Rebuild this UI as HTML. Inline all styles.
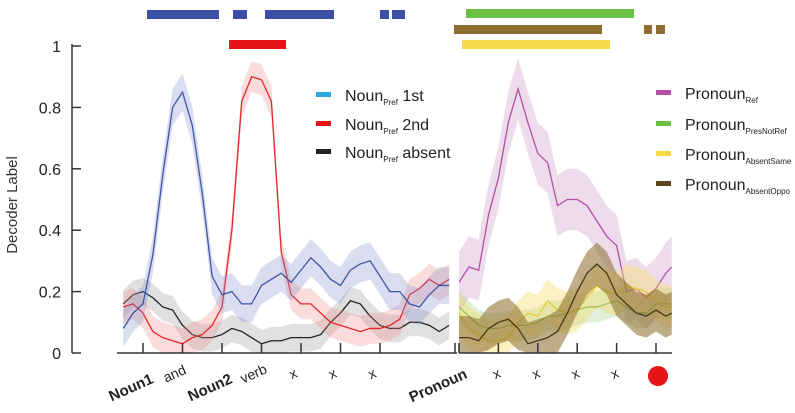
<!DOCTYPE html>
<html><head><meta charset="utf-8"><style>
body{margin:0;background:#fff;}
svg{display:block;font-family:"Liberation Sans",sans-serif;}
</style></head><body>
<svg id="chart" width="795" height="413" viewBox="0 0 795 413">
</svg>
<script>
// Left panel: word positions (units) and series
const uLeft = [-0.5,-0.25,0,0.25,0.5,0.75,1,1.25,1.5,1.75,2,2.25,2.5,2.75,3,3.25,3.5,3.75,4,4.25,4.5,4.75,5,5.25,5.5,5.75,6,6.25,6.5,6.75,7,7.25,7.5,7.75];
const nounFirst = [0.08,0.13,0.16,0.32,0.58,0.8,0.85,0.74,0.52,0.25,0.19,0.2,0.16,0.16,0.22,0.24,0.26,0.23,0.27,0.31,0.28,0.24,0.22,0.27,0.29,0.3,0.25,0.2,0.2,0.16,0.15,0.19,0.22,0.22];
const nounSecond = [0.15,0.16,0.13,0.07,0.05,0.04,0.03,0.05,0.06,0.09,0.15,0.4,0.82,0.9,0.89,0.82,0.33,0.19,0.16,0.16,0.13,0.1,0.09,0.08,0.07,0.08,0.08,0.09,0.11,0.19,0.21,0.24,0.22,0.24];
const nounAbsent = [0.16,0.19,0.2,0.18,0.15,0.14,0.09,0.06,0.05,0.05,0.06,0.08,0.07,0.05,0.03,0.04,0.04,0.05,0.05,0.05,0.06,0.1,0.13,0.17,0.16,0.12,0.09,0.08,0.08,0.1,0.1,0.09,0.07,0.09];
// Right panel
const uRight = [0,0.25,0.5,0.75,1,1.25,1.5,1.75,2,2.25,2.5,2.75,3,3.25,3.5,3.75,4,4.25,4.5,4.75,5,5.25,5.4];
const pronRef = [0.23,0.28,0.27,0.45,0.57,0.75,0.86,0.75,0.65,0.62,0.48,0.5,0.5,0.48,0.43,0.38,0.35,0.2,0.21,0.18,0.21,0.26,0.28];
const pronPresNotRef = [0.15,0.12,0.09,0.08,0.08,0.09,0.09,0.09,0.1,0.12,0.12,0.13,0.14,0.15,0.15,0.16,0.17,0.15,0.13,0.13,0.16,0.16,0.16];
const pronAbsentSame = [0.13,0.08,0.06,0.04,0.04,0.05,0.1,0.13,0.12,0.17,0.14,0.13,0.14,0.18,0.22,0.2,0.19,0.22,0.21,0.2,0.17,0.15,0.15];
const pronAbsentOppo = [0.05,0.05,0.04,0.08,0.1,0.11,0.08,0.03,0.04,0.05,0.07,0.13,0.2,0.26,0.29,0.26,0.19,0.16,0.13,0.12,0.14,0.12,0.13];
const yTicks = [0,0.2,0.4,0.6,0.8,1];
const yTickLabels = ["0","0.2","0.4","0.6","0.8","1"];
const leftWords = ["Noun1","and","Noun2","verb","x","x","x"];
const leftBold = [true,false,true,false,false,false,false];
const rightWords = ["Pronoun","x","x","x","x"];

const svg=document.getElementById('chart');
const NS='http://www.w3.org/2000/svg';
function mk(tag,attrs,parent){const e=document.createElementNS(NS,tag);for(const k in attrs)e.setAttribute(k,attrs[k]);(parent||svg).appendChild(e);return e;}
const Y=v=>353-v*307;
const XL=u=>143+u*39.5;
const XR=u=>459+u*39.4;

function series(us,vals,X,col,bandCol,bw,op,name){
  let up='',dn='';
  us.forEach((u,i)=>{up+=(i?'L':'M')+X(u)+','+Y(vals[i]+bw);});
  for(let i=us.length-1;i>=0;i--)dn+='L'+X(us[i])+','+Y(Math.max(0,vals[i]-bw));
  const b=mk('path',{d:up+dn+'Z',fill:bandCol,'fill-opacity':op});
  
  
  let d='';us.forEach((u,i)=>{d+=(i?'L':'M')+X(u)+','+Y(vals[i]);});
  const l=mk('path',{d:d,fill:'none',stroke:col,'stroke-width':1.3});
  
  
}
series(uLeft,nounAbsent,XL,'#222','#999',0.045,0.3,'noun-absent');
series(uLeft,nounSecond,XL,'#e5272a','#f08a8a',0.05,0.3,'noun-second');
series(uLeft,nounFirst,XL,'#3e55a8','#8590cc',0.06,0.3,'noun-first');
series(uRight,pronRef,XR,'#b44fa8','#cf9acb',0.1,0.35,'pronoun-ref');
series(uRight,pronPresNotRef,XR,'#6aad45','#a6d08c',0.05,0.35,'pronoun-presnotref');
series(uRight,pronAbsentSame,XR,'#e8cc3a','#f4dd6a',0.07,0.4,'pronoun-absentsame');
series(uRight,pronAbsentOppo,XR,'#4a3a1a','#8a6a2a',0.07,0.55,'pronoun-absentoppo');
mk('rect',{x:456,y:40,width:3,height:312,fill:'#fff'});

// axes
const ya=mk('line',{x1:72,y1:44,x2:72,y2:353,stroke:'#333','stroke-width':1.5});

yTicks.forEach((t,i)=>{
  mk('line',{x1:72,y1:Y(t),x2:81,y2:Y(t),stroke:'#333','stroke-width':1.5});
  const tx=mk('text',{x:61,y:Y(t)+6,'text-anchor':'end','font-size':16,fill:'#222'});
  tx.textContent=yTickLabels[i];
  
});
const yt=mk('text',{x:0,y:0,transform:'translate(17,205) rotate(-90)','text-anchor':'middle','font-size':15,fill:'#333'});
yt.textContent='Decoder Label';
mk('line',{x1:117,y1:353,x2:457,y2:353,stroke:'#333','stroke-width':1.5});
mk('line',{x1:459,y1:353,x2:672,y2:353,stroke:'#333','stroke-width':1.5});
for(let i=0;i<8;i++){const x=i<7?XL(i):455;mk('line',{x1:x,y1:343,x2:x,y2:353,stroke:'#333','stroke-width':1.5});}
for(let i=0;i<6;i++)mk('line',{x1:XR(i),y1:343,x2:XR(i),y2:353,stroke:'#333','stroke-width':1.5});
leftWords.forEach((w,i)=>{
  const bold=leftBold[i];
  const x=XL(i)-(bold?10:6),y=bold?392:378;
  const t=mk('text',{x:x,y:y,transform:`rotate(-24 ${x} ${y})`,'text-anchor':'middle','font-size':bold?15:14,'font-weight':bold?'bold':'normal',fill:'#222'});
  t.textContent=w;
});
rightWords.forEach((w,i)=>{
  const bold=i===0;const x=bold?440:XR(i);const y=bold?390:378;
  const t=mk('text',{x:x,y:y,transform:`rotate(-24 ${x} ${y})`,'text-anchor':'middle','font-size':bold?15:14,'font-weight':bold?'bold':'normal',fill:'#222'});
  t.textContent=w;
});
const dot=mk('circle',{cx:658,cy:376,r:10,fill:'#e8141a'});


// significance bars
const sig=[[147,219,10,'#3a4fa5'],[233,247,10,'#3a4fa5'],[265,334,10,'#3a4fa5'],[380,389,10,'#3a4fa5'],[392,405,10,'#3a4fa5'],
[229,286,40,'#e8141a'],[466,634,9,'#6cbf45'],[454,602,25,'#8f6d30'],[644,652,25,'#8f6d30'],[656,665,25,'#8f6d30'],[462,610,40,'#f6d84a']];
sig.forEach(s=>{const r=mk('rect',{x:s[0],y:s[2],width:s[1]-s[0],height:9,fill:s[3]});
});

// legends
function leg(x,y,col,main,sub,rest){
  const g=mk('g',{});
  
  mk('rect',{x:x,y:y-3,width:15,height:5,fill:col},g);
  const t=mk('text',{x:x+29,y:y+6,'font-size':16,fill:'#222'},g);
  t.appendChild(document.createTextNode(main));
  const ts=mk('tspan',{'font-size':8,dy:4},t);ts.textContent=sub;
  if(rest){const tr=mk('tspan',{dy:-4,'font-size':16},t);tr.textContent=' '+rest;}
}
leg(316,95,'#29a9e0','Noun','Pref','1st');
leg(316,124,'#e8141a','Noun','Pref','2nd');
leg(316,152,'#222','Noun','Pref','absent');
leg(656,93,'#b44fa8','Pronoun','Ref');
leg(656,124,'#6cbf45','Pronoun','PresNotRef');
leg(656,154,'#f6d84a','Pronoun','AbsentSame');
leg(656,184,'#5a4418','Pronoun','AbsentOppo');
</script>
</body></html>
